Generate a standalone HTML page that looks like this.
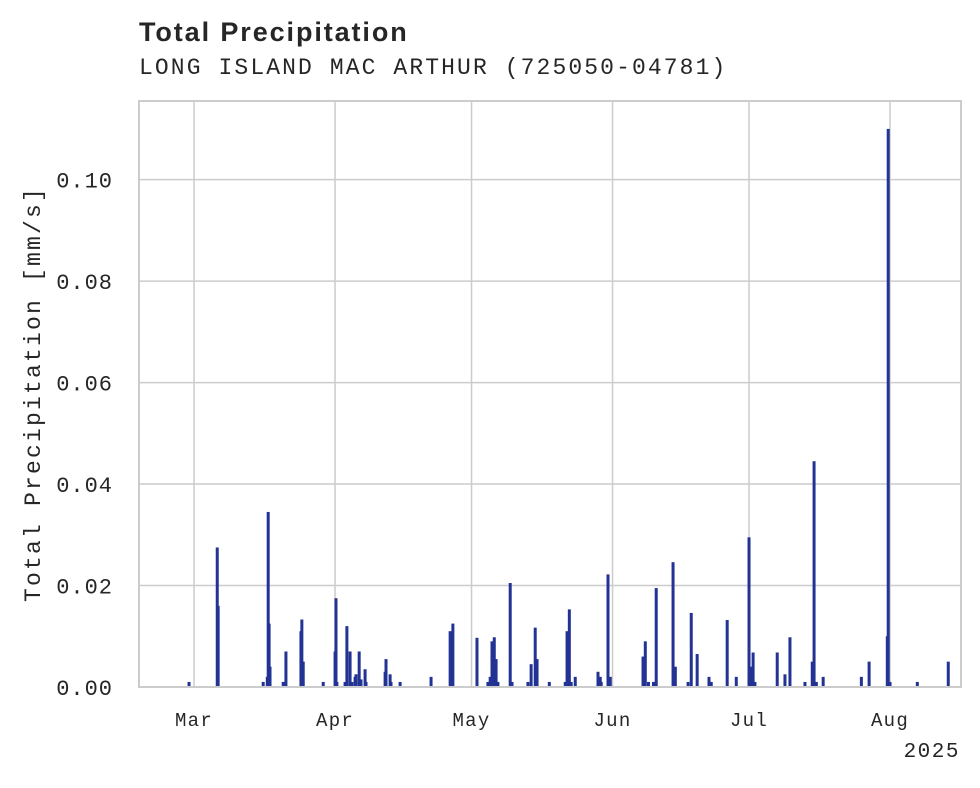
<!DOCTYPE html>
<html><head><meta charset="utf-8"><style>
body{margin:0;background:#fff;width:980px;height:783px;overflow:hidden}
text{font-family:"Liberation Mono",monospace;fill:#262626}
</style></head><body>
<svg id="chart" width="980" height="783">
<text x="139" y="41" style="font-family:'Liberation Sans',sans-serif;font-weight:bold;font-size:27px;letter-spacing:1.9px">Total Precipitation</text>
<text x="139" y="74" style="font-size:23px;letter-spacing:2.1px">LONG ISLAND MAC ARTHUR (725050-04781)</text>
<text transform="translate(40,394) rotate(-90)" text-anchor="middle" style="font-size:23px;letter-spacing:2.2px">Total Precipitation [mm/s]</text>
<g id="grid"></g><g id="bars"></g><g id="ticks"></g>
<rect x="139" y="101" width="822" height="586" fill="none" stroke="#cccccc" stroke-width="2"/>
<text x="960" y="757" text-anchor="end" style="font-size:21px;letter-spacing:1.5px">2025</text>
</svg>
<script>
// days since Mar 1, 2025
const days=[-1.1,5.1,5.3,15.2,16.1,16.3,16.5,16.7,19.6,20.2,23.5,23.7,24.0,28.4,31.0,31.2,31.4,33.2,33.6,34.3,34.7,35.4,35.6,36.3,36.7,37.6,37.8,42.0,42.2,43.1,43.3,45.3,52.1,56.3,56.9,62.2,64.6,65.1,65.5,66.0,66.4,66.8,69.5,69.9,73.4,74.1,75.0,75.4,78.1,81.6,82.0,82.5,82.9,83.8,88.8,89.3,89.5,91.0,91.5,98.7,99.2,99.9,101.0,101.6,105.3,105.8,108.6,109.3,110.6,113.2,113.7,117.2,119.2,122.0,122.5,122.9,123.3,128.2,129.9,131.0,134.3,135.9,136.3,136.8,138.3,146.7,148.4,152.4,152.6,153.0,159.0,165.8];
const values=[0.001,0.0275,0.016,0.001,0.002,0.0345,0.0125,0.004,0.001,0.007,0.011,0.0133,0.005,0.001,0.007,0.0175,0.001,0.001,0.012,0.007,0.001,0.002,0.0025,0.007,0.0015,0.0035,0.001,0.003,0.0055,0.0025,0.001,0.001,0.002,0.011,0.0125,0.0097,0.001,0.002,0.009,0.0098,0.0055,0.001,0.0205,0.001,0.001,0.0045,0.0117,0.0055,0.001,0.001,0.011,0.0153,0.001,0.002,0.003,0.002,0.001,0.0222,0.002,0.006,0.009,0.001,0.001,0.0195,0.0246,0.004,0.001,0.0146,0.0065,0.002,0.001,0.0132,0.002,0.0295,0.004,0.0068,0.001,0.0068,0.0025,0.0098,0.001,0.005,0.0445,0.001,0.002,0.002,0.005,0.01,0.11,0.001,0.001,0.005];
const yTicks=[0,0.02,0.04,0.06,0.08,0.10];
const yTickLabels=["0.00","0.02","0.04","0.06","0.08","0.10"];
const xTicks=[0,31,61,92,122,153];
const xTickLabels=["Mar","Apr","May","Jun","Jul","Aug"];
const X0=139,X1=961,Y0=687,Y1=101,D0=-12.1,D1=168.6,V1=0.1155;
const xs=d=>X0+(d-D0)/(D1-D0)*(X1-X0);
const ys=v=>Y0-(v/V1)*(Y0-Y1);
const NS="http://www.w3.org/2000/svg";
const grid=document.getElementById('grid'),bars=document.getElementById('bars'),ticks=document.getElementById('ticks');
function mk(tag,attrs,parent){const e=document.createElementNS(NS,tag);for(const k in attrs)e.setAttribute(k,attrs[k]);parent.appendChild(e);return e;}
yTicks.forEach((v,i)=>{
 const l=mk('line',{x1:X0,x2:X1,y1:ys(v),y2:ys(v),stroke:'#cccccc','stroke-width':1.5},grid);
 
 
 const t=mk('text',{x:X0-26,y:ys(v)+8,'text-anchor':'end','font-size':'22','letter-spacing':'1'},ticks);
 t.textContent=yTickLabels[i];
 
 
});
xTicks.forEach((d,i)=>{
 const l=mk('line',{x1:xs(d),x2:xs(d),y1:Y1,y2:Y0,stroke:'#cccccc','stroke-width':1.5},grid);
 
 
 const t=mk('text',{x:xs(d),y:726,'text-anchor':'middle','font-size':'19','letter-spacing':'1.3'},ticks);
 t.textContent=xTickLabels[i];
 
 
});
days.forEach((d,i)=>{
 const y=ys(values[i]);
 const r=mk('rect',{x:xs(d)-1.5,y:y,width:3,height:Y0-y,fill:'#233393'},bars);
 
 
});
</script>
</body></html>
